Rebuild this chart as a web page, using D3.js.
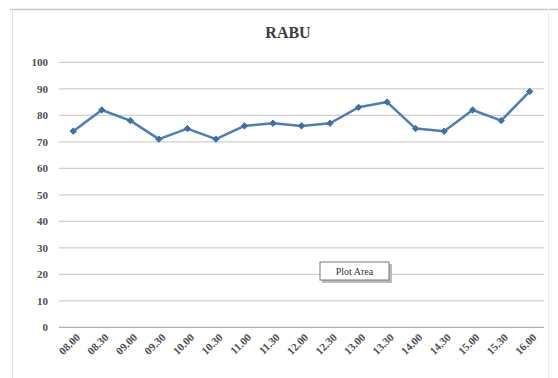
<!DOCTYPE html>
<html>
<head>
<meta charset="utf-8">
<script src="https://cdn.jsdelivr.net/npm/d3@7/dist/d3.min.js"></script>
<style>
  html, body { margin: 0; padding: 0; background: #fff; }
  svg { display: block; }
</style>
</head>
<body>
<svg id="chart" width="558" height="378"></svg>
<script>
// Half-hourly readings for Wednesday (Rabu)
const times = ["08.00", "08.30", "09.00", "09.30", "10.00", "10.30", "11.00", "11.30",
               "12.00", "12.30", "13.00", "13.30", "14.00", "14.30", "15.00", "15.30", "16.00"];
const values = [74, 82, 78, 71, 75, 71, 76, 77, 76, 77, 83, 85, 75, 74, 82, 78, 89];
const yTicks = [0, 10, 20, 30, 40, 50, 60, 70, 80, 90, 100];
const title = "RABU";

const svg = d3.select("#chart");
const font = "'Liberation Serif', 'Times New Roman', serif";

// chart frame
svg.append("line").attr("x1", 10).attr("x2", 558).attr("y1", 9.5).attr("y2", 9.5)
  .attr("stroke", "#c8c8c8").attr("stroke-width", 1.5);
svg.append("line").attr("x1", 12.5).attr("x2", 12.5).attr("y1", 9).attr("y2", 378)
  .attr("stroke", "#e2e2e2").attr("stroke-width", 1);
svg.append("line").attr("x1", 548.5).attr("x2", 548.5).attr("y1", 9).attr("y2", 378)
  .attr("stroke", "#ececec").attr("stroke-width", 1);

const x = d3.scalePoint().domain(times).range([59, 544]).padding(0.5);
const y = d3.scaleLinear().domain([0, 100]).range([327.3, 62.3]);

// horizontal gridlines
svg.append("g").selectAll("line").data(yTicks).join("line")
  .attr("x1", 59).attr("x2", 544)
  .attr("y1", d => y(d)).attr("y2", d => y(d))
  .attr("stroke", d => d === 0 ? "#b0b0b0" : "#cfcfcf").attr("stroke-width", 1.2);

// y axis labels
const yAxis = d3.axisLeft(y).tickValues(yTicks).tickSize(0).tickPadding(0);
const gy = svg.append("g").attr("transform", "translate(48,0)").call(yAxis);
gy.select(".domain").remove();
gy.selectAll("text").attr("font-family", font).attr("font-size", 11)
  .attr("font-weight", "bold").attr("fill", "#505050");

// x axis labels, rotated
const xAxis = d3.axisBottom(x).tickSize(0).tickPadding(0);
const gx = svg.append("g").attr("transform", "translate(0,327)").call(xAxis);
gx.select(".domain").remove();
gx.selectAll("text")
  .attr("font-family", font).attr("font-size", 11).attr("font-weight", "bold").attr("fill", "#505050")
  .attr("text-anchor", "end").attr("dy", 0)
  .attr("transform", "translate(7,11) rotate(-45)");

// title
svg.append("text").attr("x", 288).attr("y", 38).attr("text-anchor", "middle")
  .attr("font-family", font).attr("font-size", 16).attr("font-weight", "bold")
  .attr("fill", "#3c3c3c").text(title);

// series line
const line = d3.line().x((d, i) => x(times[i])).y(d => y(d));
svg.append("path").datum(values).attr("d", line)
  .attr("fill", "none").attr("stroke", "#4a7ebb").attr("stroke-width", 2.5)
  .attr("stroke-linejoin", "round");

// diamond markers
svg.append("g").selectAll("path").data(values).join("path")
  .attr("d", d3.symbol(d3.symbolDiamond2, 26))
  .attr("transform", (d, i) => `translate(${x(times[i])},${y(d)})`)
  .attr("fill", "#3f6fa8").attr("stroke", "#3f6fa8").attr("stroke-width", 1);

// "Plot Area" hover tip
const tip = svg.append("g").attr("transform", "translate(320,262)");
tip.append("rect").attr("x", 2).attr("y", 2).attr("width", 70).attr("height", 19)
  .attr("fill", "#bbb");
tip.append("rect").attr("x", 0).attr("y", 0).attr("width", 69).attr("height", 18)
  .attr("fill", "#fff").attr("stroke", "#777").attr("stroke-width", 1);
tip.append("text").attr("x", 34.5).attr("y", 13).attr("text-anchor", "middle")
  .attr("font-family", font).attr("font-size", 10).attr("fill", "#333").text("Plot Area");
</script>
</body>
</html>
